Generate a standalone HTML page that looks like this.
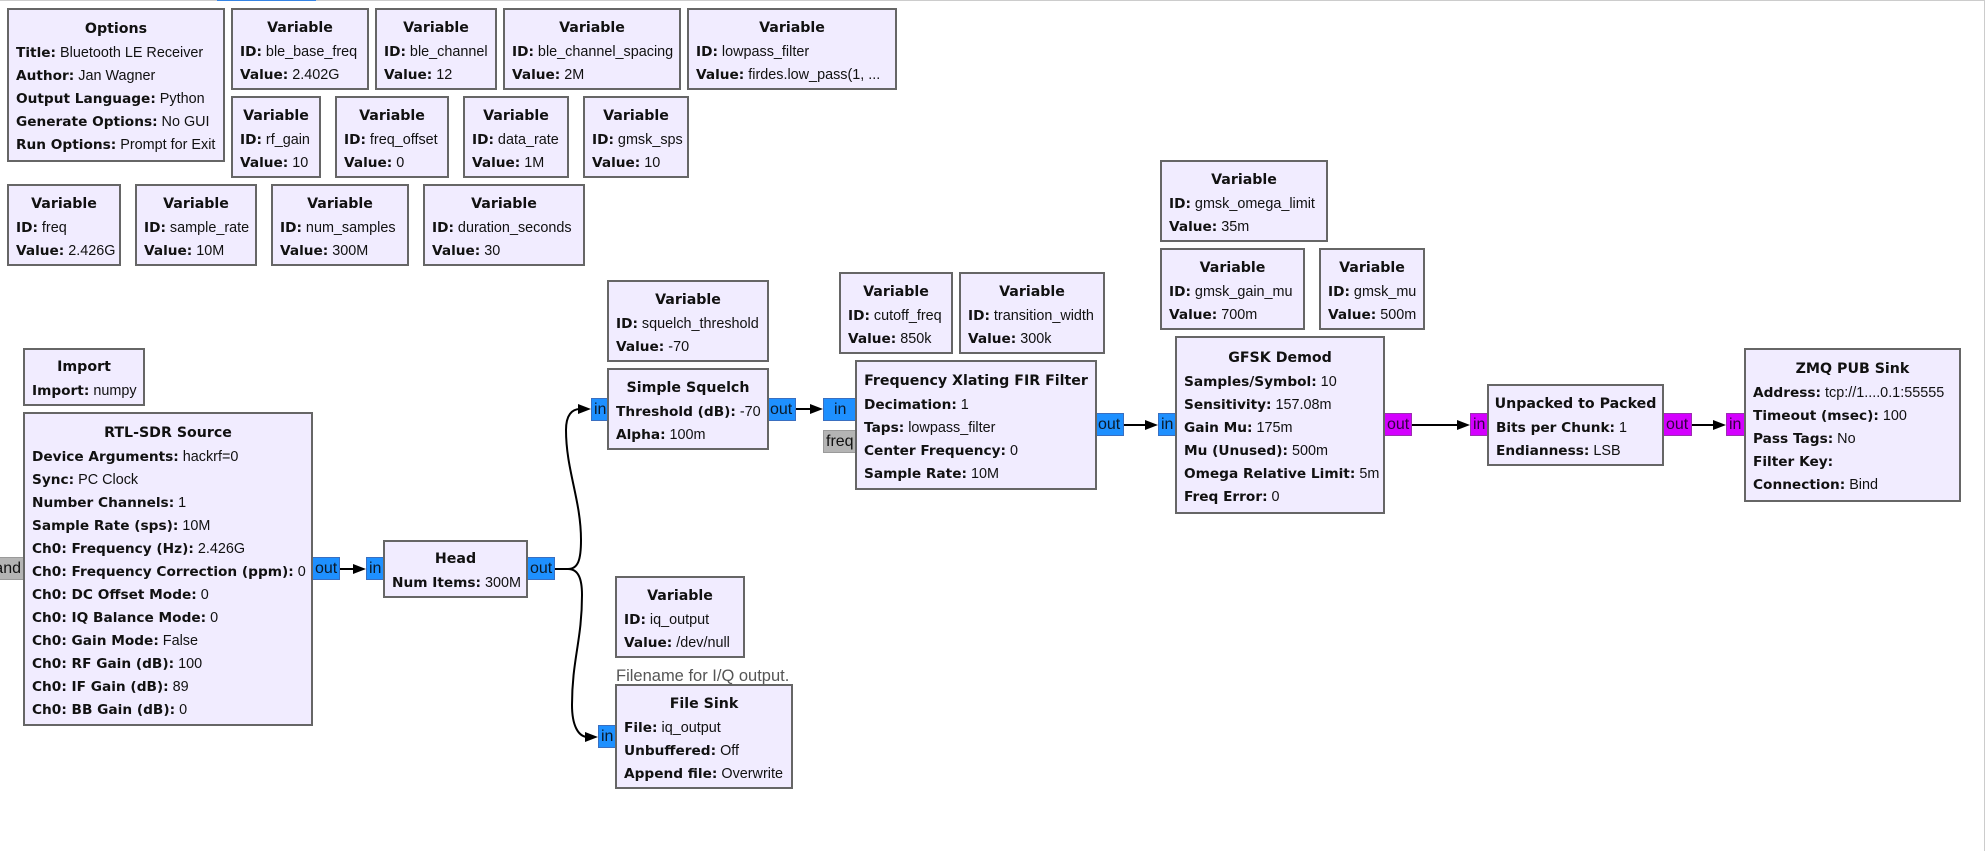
<!DOCTYPE html>
<html><head><meta charset="utf-8"><title>Bluetooth LE Receiver</title>
<style>
html,body{margin:0;padding:0;background:#fff;width:1985px;height:851px;overflow:hidden}
body{position:relative;font-family:"Liberation Sans","DejaVu Sans",sans-serif;font-size:14.4px;color:#111}
.b{position:absolute;box-sizing:border-box;border:2px solid #666;background:#f1ecff;display:flex;flex-direction:column;justify-content:center;padding-left:7px;white-space:nowrap;z-index:3}
.b h4{margin:0 0 0 -7px;position:relative;top:2px;font-family:"DejaVu Sans",sans-serif;font-size:14.2px;font-weight:bold;text-align:center;line-height:23px;height:23px}
.b p{margin:0;position:relative;top:3px;line-height:23px;height:23px}
.b p b{font-family:"DejaVu Sans",sans-serif;font-size:13.7px}
.p{position:absolute;box-sizing:border-box;height:23px;line-height:22px;border:1px solid #3a6fc0;background:#1e90ff;font-size:16px;padding-left:2px;white-space:nowrap;overflow:hidden;z-index:2;color:#0a1a2a}
.m{background:#d400ff;border-color:#9a30b0;color:#300040}
.g{background:#b4b4b4;border-color:#9a9a9a;color:#111}
svg{position:absolute;left:0;top:0;z-index:1}
.c{position:absolute;color:#555;white-space:nowrap;line-height:18px;font-size:16.5px}
</style></head><body>
<div style="position:absolute;left:0;top:0;width:1985px;height:1px;background:#ccc"></div>
<div style="position:absolute;left:217px;top:0;width:99px;height:1px;background:#3584e4"></div>
<div style="position:absolute;left:1984px;top:0;width:1px;height:851px;background:#ccc"></div>

<div class="b" style="left:7px;top:8px;width:218px;height:154px"><h4>Options</h4><p><b>Title:</b> Bluetooth LE Receiver</p><p><b>Author:</b> Jan Wagner</p><p><b>Output Language:</b> Python</p><p><b>Generate Options:</b> No GUI</p><p><b>Run Options:</b> Prompt for Exit</p></div>

<div class="b" style="left:231px;top:8px;width:138px;height:82px"><h4>Variable</h4><p><b>ID:</b> ble_base_freq</p><p><b>Value:</b> 2.402G</p></div>
<div class="b" style="left:375px;top:8px;width:122px;height:82px"><h4>Variable</h4><p><b>ID:</b> ble_channel</p><p><b>Value:</b> 12</p></div>
<div class="b" style="left:503px;top:8px;width:178px;height:82px"><h4>Variable</h4><p><b>ID:</b> ble_channel_spacing</p><p><b>Value:</b> 2M</p></div>
<div class="b" style="left:687px;top:8px;width:210px;height:82px"><h4>Variable</h4><p><b>ID:</b> lowpass_filter</p><p><b>Value:</b> firdes.low_pass(1, ...</p></div>

<div class="b" style="left:231px;top:96px;width:90px;height:82px"><h4>Variable</h4><p><b>ID:</b> rf_gain</p><p><b>Value:</b> 10</p></div>
<div class="b" style="left:335px;top:96px;width:114px;height:82px"><h4>Variable</h4><p><b>ID:</b> freq_offset</p><p><b>Value:</b> 0</p></div>
<div class="b" style="left:463px;top:96px;width:106px;height:82px"><h4>Variable</h4><p><b>ID:</b> data_rate</p><p><b>Value:</b> 1M</p></div>
<div class="b" style="left:583px;top:96px;width:106px;height:82px"><h4>Variable</h4><p><b>ID:</b> gmsk_sps</p><p><b>Value:</b> 10</p></div>

<div class="b" style="left:7px;top:184px;width:114px;height:82px"><h4>Variable</h4><p><b>ID:</b> freq</p><p><b>Value:</b> 2.426G</p></div>
<div class="b" style="left:135px;top:184px;width:122px;height:82px"><h4>Variable</h4><p><b>ID:</b> sample_rate</p><p><b>Value:</b> 10M</p></div>
<div class="b" style="left:271px;top:184px;width:138px;height:82px"><h4>Variable</h4><p><b>ID:</b> num_samples</p><p><b>Value:</b> 300M</p></div>
<div class="b" style="left:423px;top:184px;width:162px;height:82px"><h4>Variable</h4><p><b>ID:</b> duration_seconds</p><p><b>Value:</b> 30</p></div>

<div class="b" style="left:23px;top:348px;width:122px;height:58px"><h4>Import</h4><p><b>Import:</b> numpy</p></div>
<div class="b" style="left:23px;top:412px;width:290px;height:314px"><h4>RTL-SDR Source</h4><p><b>Device Arguments:</b> hackrf=0</p><p><b>Sync:</b> PC Clock</p><p><b>Number Channels:</b> 1</p><p><b>Sample Rate (sps):</b> 10M</p><p><b>Ch0: Frequency (Hz):</b> 2.426G</p><p><b>Ch0: Frequency Correction (ppm):</b> 0</p><p><b>Ch0: DC Offset Mode:</b> 0</p><p><b>Ch0: IQ Balance Mode:</b> 0</p><p><b>Ch0: Gain Mode:</b> False</p><p><b>Ch0: RF Gain (dB):</b> 100</p><p><b>Ch0: IF Gain (dB):</b> 89</p><p><b>Ch0: BB Gain (dB):</b> 0</p></div>

<div class="p g" style="left:-3px;top:557px;width:27px;padding-left:0;border-left:0;text-align:right;padding-right:2px;direction:rtl"><bdi>and</bdi></div>
<div class="p" style="left:312px;top:557px;width:28px">out</div>
<div class="p" style="left:366px;top:557px;width:19px">in</div>
<div class="b" style="left:383px;top:540px;width:145px;height:58px"><h4>Head</h4><p><b>Num Items:</b> 300M</p></div>
<div class="p" style="left:527px;top:557px;width:28px">out</div>

<div class="b" style="left:607px;top:280px;width:162px;height:82px"><h4>Variable</h4><p><b>ID:</b> squelch_threshold</p><p><b>Value:</b> -70</p></div>
<div class="p" style="left:591px;top:398px;width:18px">in</div>
<div class="b" style="left:607px;top:368px;width:162px;height:82px"><h4>Simple Squelch</h4><p><b>Threshold (dB):</b> -70</p><p><b>Alpha:</b> 100m</p></div>
<div class="p" style="left:767px;top:398px;width:29px">out</div>

<div class="b" style="left:839px;top:272px;width:114px;height:82px"><h4>Variable</h4><p><b>ID:</b> cutoff_freq</p><p><b>Value:</b> 850k</p></div>
<div class="b" style="left:959px;top:272px;width:146px;height:82px"><h4>Variable</h4><p><b>ID:</b> transition_width</p><p><b>Value:</b> 300k</p></div>

<div class="p" style="left:823px;top:398px;width:34px;padding-left:10px">in</div>
<div class="p g" style="left:823px;top:430px;width:34px">freq</div>
<div class="b" style="left:855px;top:360px;width:242px;height:130px"><h4>Frequency Xlating FIR Filter</h4><p><b>Decimation:</b> 1</p><p><b>Taps:</b> lowpass_filter</p><p><b>Center Frequency:</b> 0</p><p><b>Sample Rate:</b> 10M</p></div>
<div class="p" style="left:1095px;top:413px;width:29px">out</div>

<div class="b" style="left:1160px;top:160px;width:168px;height:82px"><h4>Variable</h4><p><b>ID:</b> gmsk_omega_limit</p><p><b>Value:</b> 35m</p></div>
<div class="b" style="left:1160px;top:248px;width:145px;height:82px"><h4>Variable</h4><p><b>ID:</b> gmsk_gain_mu</p><p><b>Value:</b> 700m</p></div>
<div class="b" style="left:1319px;top:248px;width:106px;height:82px"><h4>Variable</h4><p><b>ID:</b> gmsk_mu</p><p><b>Value:</b> 500m</p></div>

<div class="p" style="left:1158px;top:413px;width:19px">in</div>
<div class="b" style="left:1175px;top:336px;width:210px;height:178px"><h4>GFSK Demod</h4><p><b>Samples/Symbol:</b> 10</p><p><b>Sensitivity:</b> 157.08m</p><p><b>Gain Mu:</b> 175m</p><p><b>Mu (Unused):</b> 500m</p><p><b>Omega Relative Limit:</b> 5m</p><p><b>Freq Error:</b> 0</p></div>
<div class="p m" style="left:1384px;top:413px;width:28px">out</div>

<div class="p m" style="left:1470px;top:413px;width:19px">in</div>
<div class="b" style="left:1487px;top:384px;width:177px;height:82px"><h4>Unpacked to Packed</h4><p><b>Bits per Chunk:</b> 1</p><p><b>Endianness:</b> LSB</p></div>
<div class="p m" style="left:1663px;top:413px;width:29px">out</div>

<div class="p m" style="left:1726px;top:413px;width:20px">in</div>
<div class="b" style="left:1744px;top:348px;width:217px;height:154px"><h4>ZMQ PUB Sink</h4><p><b>Address:</b> tcp://1....0.1:55555</p><p><b>Timeout (msec):</b> 100</p><p><b>Pass Tags:</b> No</p><p><b>Filter Key:</b></p><p><b>Connection:</b> Bind</p></div>

<div class="b" style="left:615px;top:576px;width:130px;height:82px"><h4>Variable</h4><p><b>ID:</b> iq_output</p><p><b>Value:</b> /dev/null</p></div>
<div class="c" style="left:616px;top:667px">Filename for I/Q output.</div>
<div class="p" style="left:598px;top:725px;width:19px">in</div>
<div class="b" style="left:615px;top:684px;width:178px;height:105px"><h4>File Sink</h4><p><b>File:</b> iq_output</p><p><b>Unbuffered:</b> Off</p><p><b>Append file:</b> Overwrite</p></div>

<svg width="1985" height="851" viewBox="0 0 1985 851">
<g fill="none" stroke="#000" stroke-width="2">
<path d="M340 569H356"/>
<path d="M555 569H568C578 569 581 560 581 540C581 500 566 470 566 430C566 415 572 409 580 409"/>
<path d="M568 569C578 569 582 578 582 595C582 640 572 660 572 705C572 725 578 737 588 737"/>
<path d="M796 409H813"/>
<path d="M1124 425H1148"/>
<path d="M1412 425H1460"/>
<path d="M1692 425H1716"/>
</g>
<g fill="#000">
<path d="M366 569l-13-5v10z"/>
<path d="M591 409l-13-5v10z"/>
<path d="M598 737l-13-5v10z"/>
<path d="M823 409l-13-5v10z"/>
<path d="M1158 425l-13-5v10z"/>
<path d="M1470 425l-13-5v10z"/>
<path d="M1726 425l-13-5v10z"/>
</g>
</svg>
</body></html>
